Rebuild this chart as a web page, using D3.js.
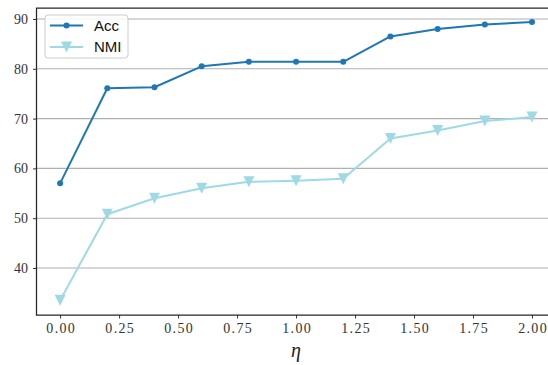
<!DOCTYPE html>
<html>
<head>
<meta charset="utf-8">
<script src="https://cdn.jsdelivr.net/npm/d3@7"></script>
<style>
  html, body { margin: 0; padding: 0; background: #fff; }
  svg { display: block; }
</style>
</head>
<body>
<svg id="chart" width="548" height="365"></svg>
<script>
const etas = [0.0, 0.2, 0.4, 0.6, 0.8, 1.0, 1.2, 1.4, 1.6, 1.8, 2.0];
const accValues = [57.0, 76.1, 76.3, 80.5, 81.4, 81.4, 81.4, 86.5, 88.0, 88.9, 89.4];
const nmiValues = [33.5, 50.8, 54.0, 56.0, 57.3, 57.5, 57.9, 66.0, 67.6, 69.5, 70.3];
const xTicks = [0.0, 0.25, 0.5, 0.75, 1.0, 1.25, 1.5, 1.75, 2.0];
const yTicks = [40, 50, 60, 70, 80, 90];
const seriesNames = ["Acc", "NMI"];
const seriesColors = ["#1f77b4", "#9edae5"];

const svg = d3.select("#chart");
const padL = 36.5, padR = 555.6, padT = 8, padB = 315;

const x = d3.scaleLinear().domain([-0.1, 2.1]).range([padL, padR]);
const y = d3.scaleLinear().domain([30.56, 92.21]).range([padB, padT]);

// grid
svg.append("g").selectAll("line").data(yTicks).join("line")
  .attr("x1", padL).attr("x2", 548)
  .attr("y1", d => y(d)).attr("y2", d => y(d))
  .attr("stroke", "#b0b0b0").attr("stroke-width", 1.1);

const serif = "'Liberation Serif', 'DejaVu Serif', serif";

// y axis
const yAxis = svg.append("g").attr("transform", `translate(${padL},0)`)
  .call(d3.axisLeft(y).tickValues(yTicks).tickSize(3.5).tickPadding(5).tickFormat(d3.format("d")));
yAxis.select(".domain").remove();
yAxis.selectAll(".tick line").attr("stroke", "#333").attr("stroke-width", 1);
yAxis.selectAll(".tick text").attr("font-family", serif).attr("font-size", 14).attr("fill", "#333");

// x axis
const xAxis = svg.append("g").attr("transform", `translate(0,${padB})`)
  .call(d3.axisBottom(x).tickValues(xTicks).tickSize(3.5).tickPadding(5).tickFormat(d3.format(".2f")));
xAxis.select(".domain").remove();
xAxis.selectAll(".tick line").attr("stroke", "#333").attr("stroke-width", 1);
xAxis.selectAll(".tick text").attr("font-family", serif).attr("font-size", 14).attr("fill", "#333")
  .attr("letter-spacing", "1.3px").attr("dx", "0.6px");

// spines
svg.append("path")
  .attr("d", `M${padR},${padT}H${padL}V${padB}H${padR}`)
  .attr("fill", "none").attr("stroke", "#262626").attr("stroke-width", 1.25);

// lines
const line = d3.line().x((d, i) => x(etas[i])).y(d => y(d));
const allSeries = [accValues, nmiValues];
allSeries.forEach((vals, k) => {
  svg.append("path").datum(vals).attr("d", line)
    .attr("fill", "none").attr("stroke", seriesColors[k]).attr("stroke-width", 2)
    .attr("stroke-linejoin", "round");
});

// markers
svg.append("g").selectAll("circle").data(accValues).join("circle")
  .attr("cx", (d, i) => x(etas[i])).attr("cy", d => y(d)).attr("r", 3)
  .attr("fill", seriesColors[0]);

const tri = (cx, cy, s) => `M${cx - s},${cy - s}L${cx + s},${cy - s}L${cx},${cy + s}Z`;
svg.append("g").selectAll("path").data(nmiValues).join("path")
  .attr("d", (d, i) => tri(x(etas[i]), y(d), 5.5))
  .attr("fill", seriesColors[1]);

// x label
svg.append("text").attr("x", x(1.0)).attr("y", 357).attr("text-anchor", "middle")
  .attr("font-family", serif).attr("font-style", "italic").attr("font-size", 20)
  .attr("fill", "#222").text("η");

// legend
const lg = svg.append("g");
lg.append("rect").attr("x", 45).attr("y", 15).attr("width", 83).attr("height", 43)
  .attr("rx", 3).attr("fill", "#fff").attr("fill-opacity", 0.85)
  .attr("stroke", "#cccccc").attr("stroke-width", 1);
const rows = [25.5, 47];
seriesNames.forEach((name, k) => {
  const ry = rows[k];
  lg.append("line").attr("x1", 50).attr("x2", 83).attr("y1", ry).attr("y2", ry)
    .attr("stroke", seriesColors[k]).attr("stroke-width", 2);
  if (k === 0) {
    lg.append("circle").attr("cx", 66.5).attr("cy", ry).attr("r", 3).attr("fill", seriesColors[k]);
  } else {
    lg.append("path").attr("d", tri(66.5, ry, 5.5)).attr("fill", seriesColors[k]);
  }
  lg.append("text").attr("x", 94).attr("y", ry + 5).attr("font-family", "'Liberation Sans', Arial, sans-serif")
    .attr("font-size", 15).attr("fill", "#111").text(name);
});
</script>
</body>
</html>
